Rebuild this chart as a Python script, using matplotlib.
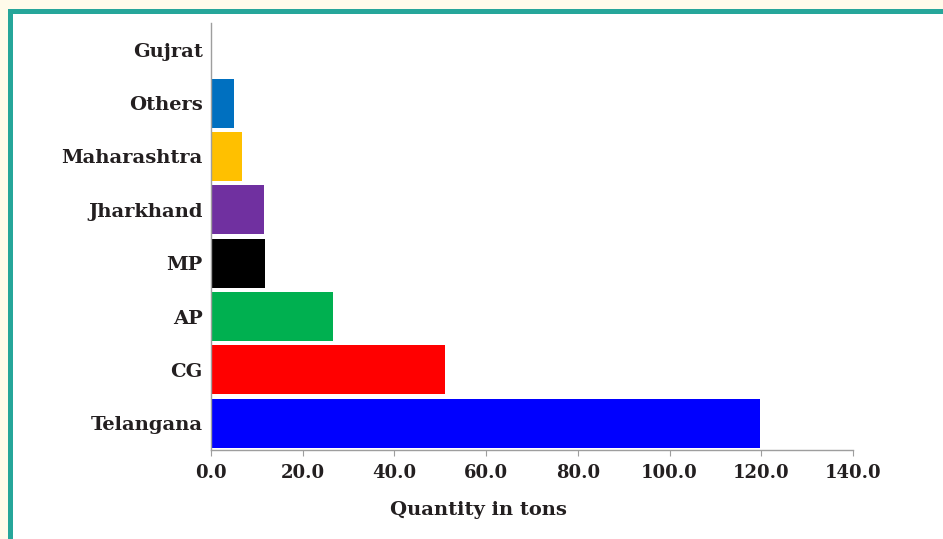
import matplotlib.pyplot as plt
from matplotlib.patches import Rectangle

# State-wise quantity (tons), listed bottom to top
states = ["Telangana", "CG", "AP", "MP", "Jharkhand", "Maharashtra", "Others", "Gujrat"]
quantity = [119.7, 51.0, 26.6, 11.8, 11.6, 6.8, 5.0, 0.0]
colors = ["#0000ff", "#ff0000", "#00b050", "#000000", "#7030a0", "#ffc000", "#0070c0", "#ffffff"]
xticks = [0, 20, 40, 60, 80, 100, 120, 140]

TEXT = "#231f20"
AXIS = "#9e9e9e"

plt.rcParams["font.family"] = ["DejaVu Serif"]
plt.rcParams["font.weight"] = "bold"

fig = plt.figure(figsize=(9.43, 5.39), dpi=100, facecolor="#fffbea")

# teal frame with white panel inside
W, H = 943, 539
fig.patches.append(Rectangle((8 / W, 0), 1, 1 - 9 / H, transform=fig.transFigure,
                             facecolor="#26a69a", edgecolor="none", zorder=-2))
fig.patches.append(Rectangle((13 / W, 0), 1, 1 - 14 / H, transform=fig.transFigure,
                             facecolor="white", edgecolor="none", zorder=-1))

ax = fig.add_axes([211 / W, 1 - 450 / H, (853 - 211) / W, (450 - 23) / H])
ax.set_facecolor("none")

ax.barh(range(len(states)), quantity, height=0.92, color=colors)

ax.set_xlim(0, 140)
ax.set_ylim(-0.5, len(states) - 0.5)
ax.set_xticks(xticks)
ax.set_xticklabels([f"{v:.1f}" for v in xticks], fontsize=13, color=TEXT, fontweight="bold")
ax.set_yticks(range(len(states)))
ax.set_yticklabels(states, fontsize=14, color=TEXT, fontweight="bold")

for side in ["top", "right"]:
    ax.spines[side].set_visible(False)
for side in ["left", "bottom"]:
    ax.spines[side].set_color(AXIS)
    ax.spines[side].set_linewidth(1)
ax.tick_params(axis="y", length=0, pad=6)
ax.tick_params(axis="x", length=4, color=AXIS, pad=6)

fig.text(478 / W, 1 - 510 / H, "Quantity in tons", ha="center", va="center",
         fontsize=14, color=TEXT, fontweight="bold")

fig.savefig("out.png", dpi=100, facecolor=fig.get_facecolor())
